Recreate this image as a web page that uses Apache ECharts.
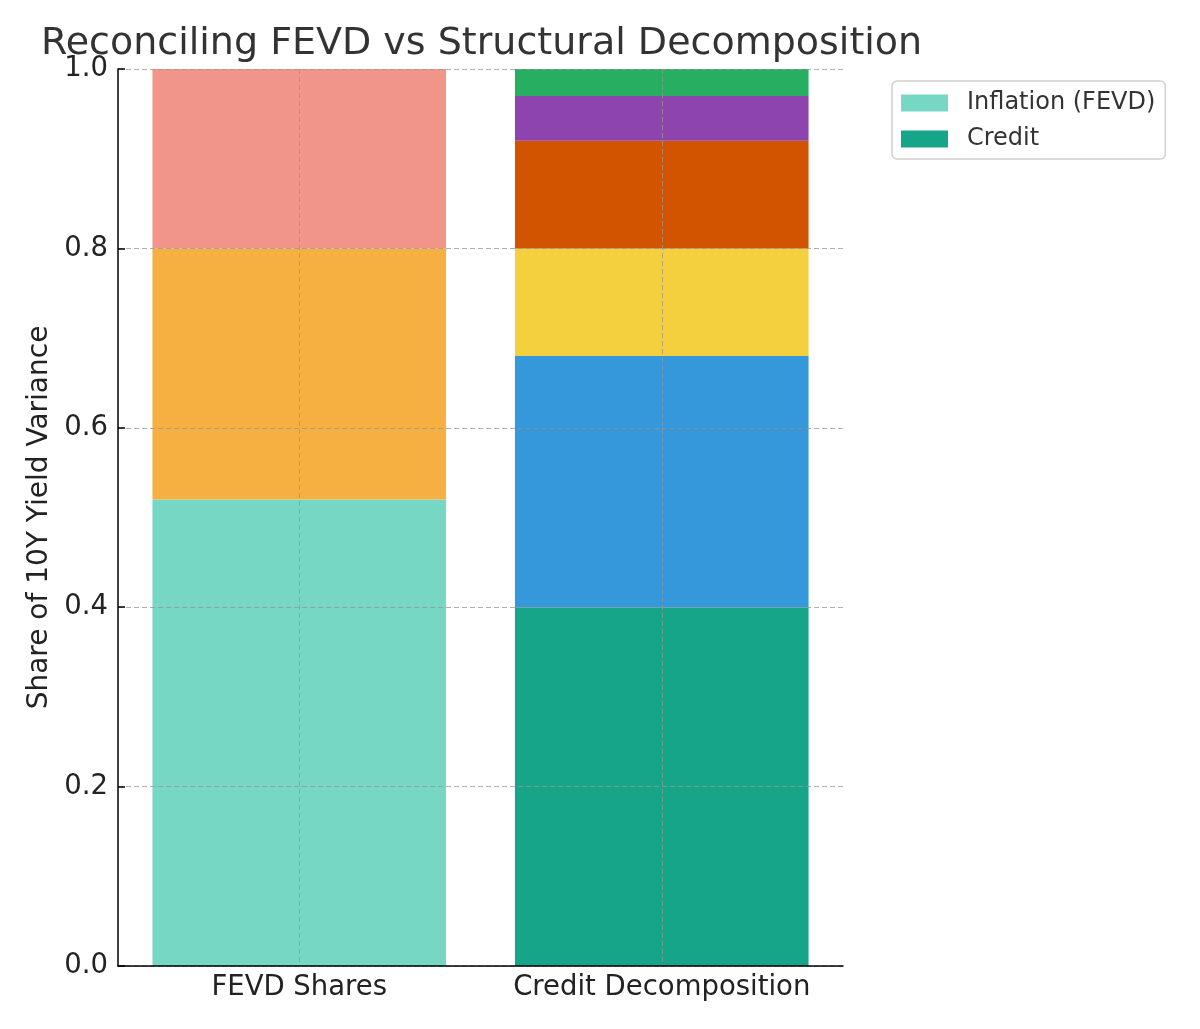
<!DOCTYPE html>
<html>
<head>
<meta charset="utf-8">
<script src="https://cdn.jsdelivr.net/npm/echarts@6/dist/echarts.min.js"></script>
<style>html,body{margin:0;padding:0;background:#fff}#c{width:1200px;height:1029px}</style>
</head>
<body>
<div id="c"></div>
<script>
const categories = ['FEVD Shares', 'Credit Decomposition'];
const fevdNames = ['Inflation (FEVD)', 'Growth (FEVD)', 'Other (FEVD)'];
const fevdValues = [0.52, 0.28, 0.20];
const fevdColors = ['#76D7C4', '#F5B041', '#F1948A'];
const creditNames = ['Credit', 'Term Premium', 'Liquidity', 'Policy', 'Risk Appetite', 'Residual'];
const creditValues = [0.40, 0.28, 0.12, 0.12, 0.05, 0.03];
const creditColors = ['#17A589', '#3498DB', '#F4D03F', '#D35400', '#8E44AD', '#27AE60'];
const yTicks = [0, 0.2, 0.4, 0.6, 0.8, 1.0];
const legendNames = ['Inflation (FEVD)', 'Credit'];

const series = [];
fevdNames.forEach((n, i) => {
  series.push({ name: n, type: 'bar', stack: 'total', barWidth: '81%',
    itemStyle: { color: fevdColors[i] }, data: [fevdValues[i], '-'] });
});
creditNames.forEach((n, i) => {
  series.push({ name: n, type: 'bar', stack: 'total', barWidth: '81%',
    itemStyle: { color: creditColors[i] }, data: ['-', creditValues[i]] });
});

const font = 'DejaVu Sans';
const gridLine = { show: true, interval: 0, lineStyle: { color: 'rgba(150,150,150,0.75)', type: [5, 3], width: 1 } };

const chart = echarts.init(document.getElementById('c'));
chart.setOption({
  animation: false,
  textStyle: { fontFamily: font },
  title: { text: 'Reconciling FEVD vs Structural Decomposition', left: 36, top: 20,
    textStyle: { fontFamily: font, fontSize: 38, fontWeight: 'normal', color: '#333' } },
  legend: { data: legendNames, orient: 'vertical', left: 892, top: 81,
    padding: [10, 10, 8, 9], itemWidth: 47, itemHeight: 17, itemGap: 12, icon: 'rect',
    borderColor: '#d0d0d0', borderWidth: 1.5, borderRadius: 5,
    textStyle: { fontFamily: font, fontSize: 24, lineHeight: 24, color: '#333', padding: [0, 0, 0, 14] } },
  grid: { left: 118, right: 357, top: 69, bottom: 63 },
  xAxis: { type: 'category', data: categories, z: 10,
    axisLine: { lineStyle: { color: '#000', width: 1.5 } },
    axisTick: { inside: true, alignWithLabel: true, interval: 0, length: 7, lineStyle: { color: '#000', width: 1.5 } },
    axisLabel: { fontFamily: font, fontSize: 27.5, color: '#222', margin: 8, interval: 0 },
    splitLine: Object.assign({ alignWithLabel: true }, gridLine) },
  yAxis: { type: 'value', min: 0, max: 1, interval: 0.2, z: 10,
    name: 'Share of 10Y Yield Variance', nameLocation: 'middle', nameGap: 63,
    nameTextStyle: { fontFamily: font, fontSize: 28, color: '#222' },
    axisLine: { show: true, lineStyle: { color: '#000', width: 1.5 } },
    axisTick: { show: true, inside: true, length: 7, lineStyle: { color: '#000', width: 1.5 } },
    axisLabel: { fontFamily: font, fontSize: 27.5, color: '#222', margin: 10,
      formatter: v => yTicks.includes(Math.round(v * 10) / 10) ? v.toFixed(1) : '' },
    splitLine: gridLine },
  series: series
});
</script>
</body>
</html>
